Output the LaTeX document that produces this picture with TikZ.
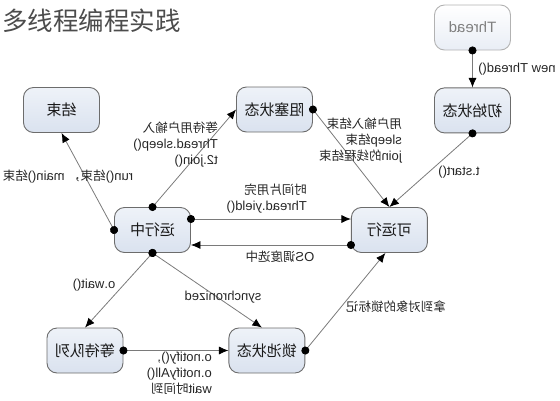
\documentclass[tikz,border=0pt]{standalone}
\usepackage{fontspec}
\usepackage{graphicx}
\setmainfont{Liberation Sans}
\newfontfamily\zhfont[Scale=0.96]{Noto Sans CJK SC}
\newfontfamily\titlefont{Noto Sans CJK SC}
\usetikzlibrary{arrows.meta,positioning}
\definecolor{statetop}{HTML}{EEF2F8}
\definecolor{statebot}{HTML}{DAE2EF}
\definecolor{stateline}{HTML}{6C6C6C}
\definecolor{flowline}{HTML}{7A7A7A}
\definecolor{labeltext}{HTML}{262626}
\newcommand{\zh}[1]{{\zhfont #1}}
\newcommand{\flip}[1]{\reflectbox{#1}}

\begin{document}
\begin{tikzpicture}[x=1pt,y=-1pt,
  state/.style={draw=stateline,line width=0.9pt,rounded corners=10pt,
    top color=statetop,bottom color=statebot,minimum width=76pt,minimum height=45pt,
    inner sep=0pt,text=black!90,font=\zhfont\fontsize{15.6}{18}\selectfont},
  ghost/.style={draw=black!30,top color=white,bottom color=statebot!60,
    text=black!50,font=\fontsize{15}{18}\selectfont},
  flow/.style={draw=flowline,line width=0.8pt,shorten <=-4pt,
    {Circle[length=8pt,color=black]}-{Latex[length=9.5pt,width=8pt,color=black]}},
  lbl/.style={inner sep=0pt,align=right,text=labeltext,font=\fontsize{13}{16}\selectfont}]
 	\useasboundingbox (0,0) rectangle (560,400);
 	\node[anchor=west,inner sep=0pt,text=black!70] (title) at (2,21)
 		{\titlefont\fontsize{25.5}{28}\selectfont 多线程编程实践};
 	% states
 	\node[state] (end) at (61.5,110) {\flip{结束}};
 	\node[state] (blocked) at (274.5,109.5) {\flip{阻塞状态}};
 	\node[state,ghost] (thread) at (472.5,27.5) {\flip{Thread}};
 	\node[state] (init) [below=37pt of thread] {\flip{初始状态}};
 	\node[state] (running) at (152.5,230) {\flip{运行中}};
 	\node[state] (runnable) [right=160pt of running] {\flip{可运行}};
 	\node[state] (waitq) at (85,350.5) {\flip{等待队列}};
 	\node[state] (lockpool) [right=105pt of waitq] {\flip{锁池状态}};
 	% transitions
 	\path
 	(thread) edge[flow] (init)
 	(init.south) edge[flow] (runnable.north)
 	(blocked.east) edge[flow] (runnable.north)
 	(running.north) edge[flow] (blocked.west)
 	(running.west) edge[flow] (end.south)
 	([yshift=11pt]running.east) edge[flow] ([yshift=11pt]runnable.west)
 	([yshift=-15pt]runnable.west) edge[flow] ([yshift=-15pt]running.east)
 	(running.south) edge[flow] (waitq.north)
 		edge[flow] ([xshift=-5pt]lockpool.north)
 	(waitq) edge[flow] (lockpool)
 	(lockpool.east) edge[flow] ([xshift=-4pt]runnable.south);
 	% labels
 	\node[lbl,anchor=west] (newlbl) at (478,69) {\flip{new Thread()}};
 	\node[lbl] (startlbl) at (459,172) {\flip{t.start()}};
 	\node[lbl,anchor=east] (wakelbl) at (402,141)
 		{\flip{\zh{用户输入结束}}\\\flip{sleep\zh{结束}}\\\flip{join\zh{的线程结束}}};
 	\node[lbl,anchor=east] (blocklbl) at (218,145)
 		{\flip{\zh{等待用户输入}}\\\flip{Thread.sleep()}\\\flip{t2.join()}};
 	\node[lbl] (endlbl) at (68,177) {\flip{run()\zh{结束，} main()\zh{结束}}};
 	\node[lbl,anchor=east] (yieldlbl) at (307,198.5)
 		{\flip{\zh{时间片用完}}\\\flip{Thread.yield()}};
 	\node[lbl] (oslbl) at (280,257) {\flip{OS\zh{调度选中}}};
 	\node[lbl] (waitlbl) at (94,285) {\flip{o.wait()}};
 	\node[lbl] (synclbl) at (223,297) {\flip{synchronized}};
 	\node[lbl] (locklbl) at (396,307) {\flip{\zh{拿到对象的锁标记}}};
 	\node[lbl,anchor=east] (notifylbl) at (212,373)
 		{\flip{o.notify(),}\\\flip{o.notifyAll()}\\\flip{wait\zh{时间到}}};
\end{tikzpicture}
\end{document}
